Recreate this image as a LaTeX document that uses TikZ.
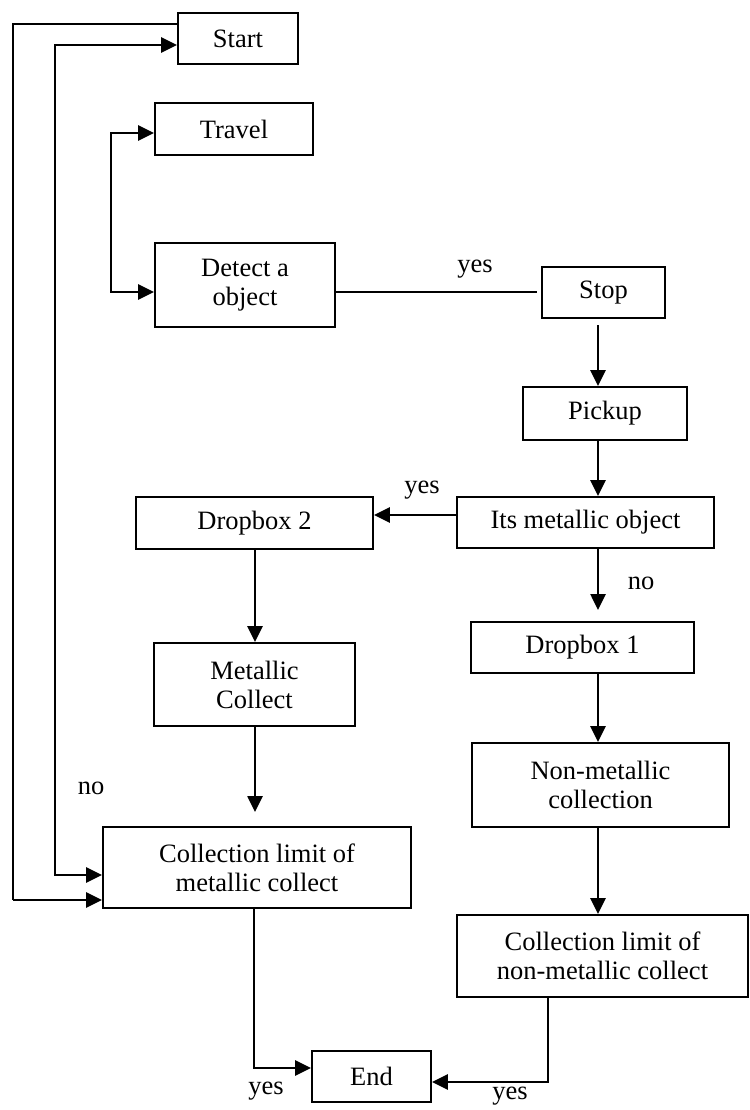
\documentclass[tikz,border=0pt]{standalone}
\usepackage{fontspec}
\setmainfont{Liberation Serif}
\usetikzlibrary{arrows.meta}
\begin{document}
\begin{tikzpicture}[x=1pt,y=-1pt,
  box/.style={draw,line width=1.8pt,inner sep=0pt,align=center,font=\fontsize{26.5}{29}\selectfont},
  lbl/.style={inner sep=0pt,font=\fontsize{26.5}{29}\selectfont},
  arr/.style={line width=2.6pt,-{Triangle[length=16pt,width=15pt]}},
  darr/.style={line width=2.6pt,{Triangle[length=16pt,width=15pt]}-{Triangle[length=16pt,width=15pt]}},
  thinline/.style={line width=1.6pt}]
\useasboundingbox (0,0) rectangle (749,1110);
% boxes
\node[box,minimum width=120pt,minimum height=51pt] (start) at (238,38.5) {Start};
\node[box,minimum width=158pt,minimum height=52pt] (travel) at (234,129) {Travel};
\node[box,minimum width=180pt,minimum height=84pt] (detect) at (245,285) {Detect a\\object};
\node[box,minimum width=123pt,minimum height=51pt] (stop) at (603.5,292.5) {Stop};
\node[box,minimum width=164pt,minimum height=53pt] (pickup) at (605,413.5) {Pickup};
\node[box,minimum width=257pt,minimum height=51pt] (metal) at (585.5,522.5) {Its metallic object};
\node[box,minimum width=237pt,minimum height=52pt] (drop2) at (254.5,523) {Dropbox 2};
\node[box,minimum width=223pt,minimum height=51pt] (drop1) at (582.5,647.5) {Dropbox 1};
\node[box,minimum width=201pt,minimum height=83pt] (mcol) at (254.5,684.5) {Metallic\\Collect};
\node[box,minimum width=257pt,minimum height=84pt] (nmcol) at (600.5,785) {Non-metallic\\collection};
\node[box,minimum width=308pt,minimum height=81pt] (clm) at (257,867.5) {Collection limit of\\metallic collect};
\node[box,minimum width=291pt,minimum height=82pt] (clnm) at (602.5,956) {Collection limit of\\non-metallic collect};
\node[box,minimum width=119pt,minimum height=51pt] (end) at (371.5,1076.5) {End};
% labels
\node[lbl] (yes1) at (475,269) {yes};
\node[lbl] (yes2) at (422,490) {yes};
\node[lbl] (no1) at (641,583) {no};
\node[lbl] (no2) at (91,788) {no};
\node[lbl] (yes3) at (266,1091) {yes};
\node[lbl] (yes4) at (510,1096) {yes};
% helper coordinates
\coordinate (o1) at (13,24);
\coordinate (o2) at (13,900);
\coordinate (i1) at (55,45);
\coordinate (i2) at (55,875);
\coordinate (t1) at (111,133);
\coordinate (t2) at (111,292);
\coordinate (s1) at (537,292);
\coordinate (sp) at (598,325);
\coordinate (m2) at (598,610);
\coordinate (mc2) at (255,812);
\coordinate (e1) at (254,1068);
\coordinate (e2) at (548,1082);
% outer loop
\draw[thinline] (start.west |- o1) -- (o1) -- (o2);
\draw[arr] (o2) -- (clm.west |- o2);
% inner loop
\draw[darr] (start.west |- i1) -- (i1) -- (i2) -- (clm.west |- i2);
% travel <-> detect
\draw[darr] (travel.west |- t1) -- (t1) -- (t2) -- (detect.west |- t2);
% detect -- stop
\draw[thinline] (detect.east |- s1) -- (s1);
% right column
\draw[arr] (sp) -- (pickup.north -| sp);
\draw[arr] (pickup.south -| sp) -- (metal.north -| sp);
\draw[arr] (metal.west |- 0,515) -- (drop2.east |- 0,515);
\draw[arr] (metal.south -| m2) -- (m2);
\draw[arr] (drop1.south -| m2) -- (nmcol.north -| m2);
\draw[arr] (nmcol.south -| m2) -- (clnm.north -| m2);
\draw[arr] (clnm.south -| e2) -- (e2) -- (end.east |- e2);
% left column
\draw[arr] (drop2.south -| mc2) -- (mcol.north -| mc2);
\draw[arr] (mcol.south -| mc2) -- (mc2);
\draw[arr] (clm.south -| e1) -- (e1) -- (end.west |- e1);
\end{tikzpicture}
\end{document}
